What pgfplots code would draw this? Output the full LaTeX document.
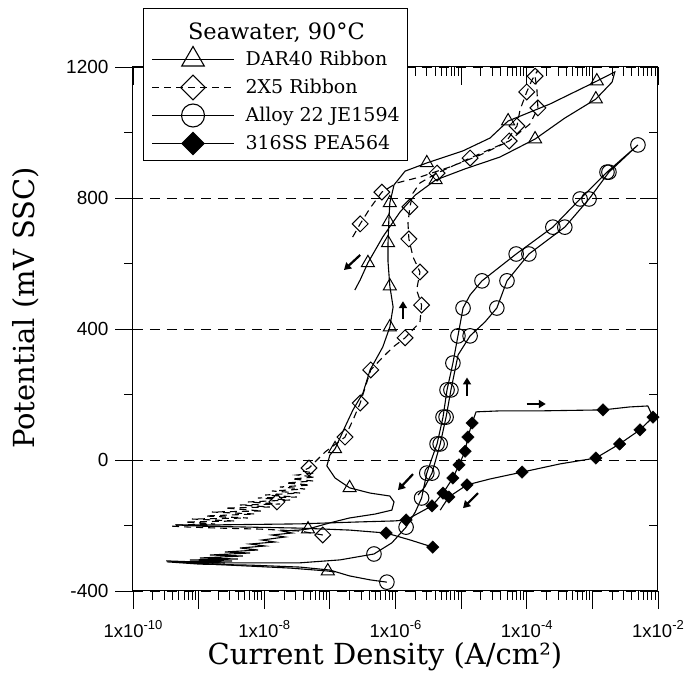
\documentclass[border=0pt]{standalone}
\usepackage{fontspec}
\setmainfont{DejaVu Serif}
\newfontfamily\sansf{Liberation Sans}
\usepackage{pgfplots}
\pgfplotsset{compat=1.18}
\usetikzlibrary{arrows.meta}
\newcommand{\sci}[1]{1x10\raisebox{0.42em}{\fontsize{13}{14}\selectfont #1}}
\pgfplotsset{
  long legend/.style={legend image code/.code={\draw[mark repeat=2,mark phase=2,##1] plot coordinates {(0pt,0pt) (41pt,0pt) (82pt,0pt)};}},
  common/.style={width=525pt, height=524pt, scale only axis,
    xmin=1e-10, xmax=1e-2, ymin=-400, ymax=1200,
    xtick={1e-10,1e-9,1e-8,1e-7,1e-6,1e-5,1e-4,1e-3,1e-2},
    minor xtick={2e-10,3e-10,4e-10,5e-10,6e-10,7e-10,8e-10,9e-10,
      2e-9,3e-9,4e-9,5e-9,6e-9,7e-9,8e-9,9e-9,
      2e-8,3e-8,4e-8,5e-8,6e-8,7e-8,8e-8,9e-8,
      2e-7,3e-7,4e-7,5e-7,6e-7,7e-7,8e-7,9e-7,
      2e-6,3e-6,4e-6,5e-6,6e-6,7e-6,8e-6,9e-6,
      2e-5,3e-5,4e-5,5e-5,6e-5,7e-5,8e-5,9e-5,
      2e-4,3e-4,4e-4,5e-4,6e-4,7e-4,8e-4,9e-4,
      2e-3,3e-3,4e-3,5e-3,6e-3,7e-3,8e-3,9e-3},
    ytick={-400,0,400,800,1200}, minor ytick={-200,200,600,1000},
    major tick length=18pt, minor tick length=9pt,
    every tick/.style={black, line width=0.9pt},
    axis line style={line width=1pt}},
}
\begin{document}
\begin{tikzpicture}
% inward ticks on top and right
\begin{axis}[xmode=log, common, xtick pos=top, ytick pos=right, tick align=inside,
  xticklabels={}, yticklabels={}]
\end{axis}
\begin{axis}[xmode=log, common, xtick pos=bottom, ytick pos=left, tick align=outside,
  xticklabels={\sci{-10},,\sci{-8},,\sci{-6},,\sci{-4},,\sci{-2}},
  yticklabels={-400,0,400,800,1200},
  ymajorgrids, major grid style={dash pattern=on 10pt off 7pt, line width=0.9pt, black},
  xticklabel style={font=\sansf\fontsize{18.5}{21}\selectfont, yshift=-8pt},
  yticklabel style={font=\sansf\fontsize{19}{22}\selectfont, xshift=-3pt},
  label style={font=\fontsize{29}{34}\selectfont},
  xlabel={Current Density (A/cm²)}, ylabel={Potential (mV SSC)},
  xlabel style={at={(axis description cs:0.48,-0.125)}, anchor=center},
  ylabel style={at={(axis description cs:-0.205,0.54)}, anchor=center},
  legend style={at={(0.019,1.1126)}, anchor=north west, draw=black, line width=1pt, fill=white,
    inner xsep=8pt, inner ysep=3pt, row sep=0pt, nodes={inner sep=0pt},
    font=\fontsize{19}{22}\selectfont,
    /tikz/every odd column/.append style={column sep=11pt}},
  legend cell align=left,
]
% ---------------- DAR40 Ribbon
\addplot[black, line width=1.1pt, forget plot] coordinates {
(1.2e-7,-342) (9.3e-8,-339) (2.47e-8,-330) (6.0e-9,-324) (1.5e-9,-318) (5.2e-10,-311) (3.2e-10,-308)
(2.52e-9,-314.5) (5.2e-10,-311.4) (3.23e-9,-308.4) (7.39e-10,-305.3) (3.98e-9,-302.3) (1.05e-9,-299.2)
(4.74e-9,-293.1) (1.49e-9,-290.1) (6.07e-9,-284.0) (2.52e-9,-280.9) (8.03e-9,-274.8) (4.27e-9,-268.7)
(1.03e-8,-262.6) (6.07e-9,-256.5) (1.46e-8,-250.4) (9.25e-9,-244.3) (2.07e-8,-235.1) (1.31e-8,-229.0)
(2.65e-8,-222.9) (1.86e-8,-216.8) (3.51e-8,-213.7) (4.65e-8,-210.7)
(1.0e-7,-192) (2.0e-7,-177) (4.9e-7,-165) (8.8e-7,-153) (9.5e-7,-128) (8.2e-7,-110) (4.1e-7,-101)
(2.0e-7,-85) (1.2e-7,-55) (9.0e-8,-18) (1.0e-7,15) (1.2e-7,34) (1.7e-7,101) (2.25e-7,153) (3.2e-7,205)
(4.1e-7,275) (6.4e-7,345) (8.2e-7,406) (9.2e-7,467) (8.2e-7,531) (7.7e-7,605) (7.7e-7,663) (7.9e-7,727)
(8.2e-7,785) (9.5e-7,840) (1.4e-6,882) (3.0e-6,907) (1.07e-5,944) (2.75e-5,983) (5.2e-5,1035)
(2.26e-4,1087) (1.17e-3,1157) (2.2e-3,1185) (2.0e-3,1154) (1.13e-3,1102) (3.8e-4,1044) (1.34e-4,980)
(3.9e-5,925) (1.15e-5,889) (4.1e-6,855) (2.0e-6,809) (1.17e-6,757) (6.4e-7,681) (3.8e-7,602) (2.9e-7,550) (2.4e-7,519)
};
\addplot[black, only marks, mark=triangle, mark size=7.5pt, mark options={line width=1pt}, forget plot] coordinates {
(9.3e-8,-339) (4.65e-8,-211) (2.0e-7,-85) (1.2e-7,34) (8.2e-7,406) (8.2e-7,531) (7.7e-7,663) (7.9e-7,727)
(8.2e-7,785) (3.0e-6,907) (5.2e-5,1035) (1.17e-3,1157) (1.13e-3,1102) (1.34e-4,980) (4.1e-6,855) (3.8e-7,602)
};
% ---------------- 2X5 Ribbon
\addplot[black, line width=1.1pt, dash pattern=on 7pt off 5pt, forget plot] coordinates {
(7.8e-8,-229) (3.5e-8,-217) (8.6e-9,-211) (2.1e-9,-208) (7.4e-10,-205) (3.9e-10,-202)
(4.37e-10,-198.5) (1.78e-9,-195.4) (6.19e-10,-189.3) (3.58e-9,-186.3) (7.93e-10,-180.2) (5.65e-9,-177.1)
(1.25e-9,-171.0) (7.23e-9,-164.9) (1.60e-9,-158.8) (9.25e-9,-155.7) (2.52e-9,-146.6) (1.22e-8,-143.5)
(4.27e-9,-137.4) (1.74e-8,-134.3) (5.65e-9,-128.2) (2.47e-8,-122.1) (8.03e-9,-116.0) (3.15e-8,-113.0)
(1.03e-8,-106.9) (3.51e-8,-100.8) (1.31e-8,-94.7) (4.18e-8,-88.5) (1.74e-8,-82.4) (4.98e-8,-76.3)
(2.14e-8,-70.2) (5.53e-8,-64.1) (2.65e-8,-58.0) (5.93e-8,-51.9) (3.15e-8,-45.8) (5.73e-8,-39.7)
(3.76e-8,-33.6) (4.81e-8,-24.4)
(8.4e-8,24) (1.7e-7,70) (2.25e-7,122) (2.9e-7,174) (4.2e-7,275) (6.4e-7,314) (9.2e-7,345) (1.4e-6,373)
(2.36e-6,421) (2.5e-6,473) (2.1e-6,519) (2.36e-6,574) (1.85e-6,620) (1.6e-6,675) (1.55e-6,724) (1.66e-6,773)
(1.85e-6,815) (2.36e-6,846) (4.3e-6,876) (1.37e-5,922) (5.4e-5,974) (1.12e-4,1026) (1.48e-4,1075)
(1.43e-4,1130) (1.34e-4,1172) (1.48e-4,1191)
(1.2e-4,1160) (1.0e-4,1124) (7.9e-5,1069) (7.1e-5,1020) (4.7e-5,968) (1.94e-5,931) (6.8e-6,895)
(2.36e-6,864) (1.05e-6,846) (6.2e-7,818) (4.1e-7,769) (2.9e-7,721) (2.1e-7,672)
};
\addplot[black, only marks, mark=square, mark size=5.6pt, mark options={rotate=45, solid, line width=1pt}, forget plot] coordinates {
(7.8e-8,-229) (1.56e-8,-128) (4.81e-8,-24.4) (1.7e-7,70) (2.9e-7,174) (4.2e-7,275) (1.4e-6,373) (2.5e-6,473)
(2.36e-6,574) (1.6e-6,675) (1.66e-6,773) (4.3e-6,876) (1.37e-5,922) (5.4e-5,974) (1.48e-4,1075) (1.34e-4,1172)
(1.0e-4,1124) (7.1e-5,1020) (6.2e-7,818) (2.9e-7,721)
};
% ---------------- Alloy 22 JE1594
\addplot[black, line width=1.1pt, forget plot] coordinates {
(7.4e-7,-373) (4.1e-7,-366) (2.0e-7,-354) (1.0e-7,-336) (3.5e-8,-327) (6.1e-9,-321) (1.05e-9,-318) (3.3e-10,-311)
(1.05e-9,-314) (8.6e-9,-314) (3.5e-8,-314) (1.43e-7,-305) (4.7e-7,-287) (8.8e-7,-253) (1.45e-6,-205)
(2.0e-6,-159) (2.5e-6,-116) (3.0e-6,-40) (3.6e-6,6) (4.3e-6,49) (5.3e-6,131) (6.1e-6,214) (7.5e-6,296)
(8.95e-6,379) (1.07e-5,464) (1.37e-5,504) (2.08e-5,547) (6.9e-5,629) (2.5e-4,711) (6.5e-4,797) (1.67e-3,879)
(4.95e-3,962) (1.79e-3,879) (8.9e-4,797) (3.8e-4,711) (1.08e-4,629) (5.0e-5,547) (3.5e-5,464) (2.3e-5,421)
(1.37e-5,379) (9.0e-6,321) (7.0e-6,214) (5.9e-6,131) (4.8e-6,49) (3.6e-6,-40) (2.8e-6,-82) (2.2e-6,-107)
};
\addplot[black, only marks, mark=o, mark size=7.3pt, mark options={line width=1pt}, forget plot] coordinates {
(7.4e-7,-373) (4.7e-7,-287) (1.45e-6,-205) (2.5e-6,-116) (3.0e-6,-40) (4.3e-6,49) (5.3e-6,131) (6.1e-6,214)
(7.5e-6,296) (8.95e-6,379) (1.07e-5,464) (2.08e-5,547) (6.9e-5,629) (2.5e-4,711) (6.5e-4,797) (1.67e-3,879)
(4.95e-3,962) (1.79e-3,879) (8.9e-4,797) (3.8e-4,711) (1.08e-4,629) (5.0e-5,547) (3.5e-5,464) (1.37e-5,379)
(7.0e-6,214) (5.9e-6,131) (4.8e-6,49) (3.6e-6,-40)
};
% ---------------- 316SS PEA564
\addplot[black, line width=1.1pt, forget plot] coordinates {
(3.7e-6,-266) (1.66e-6,-244) (7.2e-7,-223) (2.0e-7,-214) (3.5e-8,-208) (6.1e-9,-205) (1.05e-9,-202) (4.4e-10,-198)
(2.1e-9,-198) (3.5e-8,-195) (2.9e-7,-189) (9.8e-7,-186) (1.45e-6,-183) (3.6e-6,-140) (5.3e-6,-101) (7.5e-6,-55)
(9.3e-6,-15) (1.15e-5,27) (1.27e-5,70) (1.47e-5,113) (1.69e-5,147) (3.9e-5,150) (1.59e-4,150) (1.45e-3,153)
(3.7e-3,162) (7.0e-3,165) (8.4e-3,131) (5.3e-3,92) (2.6e-3,49) (1.13e-3,6) (3.2e-4,-12) (8.5e-5,-37)
(2.75e-5,-58) (1.23e-5,-76) (6.5e-6,-113) (4.8e-6,-153)
};
\addplot[black, only marks, mark=square*, mark size=4.4pt, mark options={rotate=45, fill=black}, forget plot] coordinates {
(3.7e-6,-266) (7.2e-7,-223) (1.45e-6,-183) (3.6e-6,-140) (5.3e-6,-101) (7.5e-6,-55) (9.3e-6,-15) (1.15e-5,27)
(1.27e-5,70) (1.47e-5,113) (1.45e-3,153) (8.4e-3,131) (5.3e-3,92) (2.6e-3,49) (1.13e-3,6) (8.5e-5,-37)
(1.23e-5,-76) (6.5e-6,-113)
};
% ---------------- arrows
\draw[line width=2.2pt, -{Triangle[length=7pt,width=8pt]}] (axis cs:2.9e-7,626) -- (axis cs:1.64e-7,580);
\draw[line width=2.2pt, -{Triangle[length=7pt,width=8pt]}] (axis cs:1.3e-6,430) -- (axis cs:1.3e-6,485);
\draw[line width=2.2pt, -{Triangle[length=7pt,width=8pt]}] (axis cs:1.23e-5,196) -- (axis cs:1.23e-5,252);
\draw[line width=2.2pt, -{Triangle[length=7pt,width=8pt]}] (axis cs:1.85e-6,-43) -- (axis cs:1.09e-6,-92);
\draw[line width=2.2pt, -{Triangle[length=7pt,width=8pt]}] (axis cs:1.81e-5,-101) -- (axis cs:1.07e-5,-147);
\draw[line width=2.2pt, -{Triangle[length=7pt,width=8pt]}] (axis cs:1.0e-4,171) -- (axis cs:1.95e-4,171);
% ---------------- legend
\addlegendimage{empty legend}
\addlegendentry[text height=28pt, text depth=6pt, font=\fontsize{22.5}{26}\selectfont]{\makebox[0pt][l]{\hspace*{-58pt}Seawater, 90°C}}
\addlegendimage{long legend, black, line width=1.1pt, mark=triangle, mark size=13pt, mark options={line width=1.1pt}}
\addlegendentry[text height=20.5pt, text depth=7.5pt]{DAR40 Ribbon}
\addlegendimage{long legend, black, line width=1.1pt, dash pattern=on 7pt off 5pt, mark=square, mark size=8.8pt, mark options={rotate=45, solid, line width=1.1pt}}
\addlegendentry[text height=20.5pt, text depth=7.5pt]{2X5 Ribbon}
\addlegendimage{long legend, black, line width=1.1pt, mark=o, mark size=11.5pt, mark options={line width=1.1pt}}
\addlegendentry[text height=20.5pt, text depth=7.5pt]{Alloy 22 JE1594}
\addlegendimage{long legend, black, line width=1.1pt, mark=square*, mark size=7.8pt, mark options={rotate=45, fill=black}}
\addlegendentry[text height=20.5pt, text depth=7.5pt]{316SS PEA564}
\end{axis}
\pgfresetboundingbox
\path (current axis.south west) ++(-133pt,-89pt) rectangle ++(689pt,680pt);
\end{tikzpicture}
\end{document}
